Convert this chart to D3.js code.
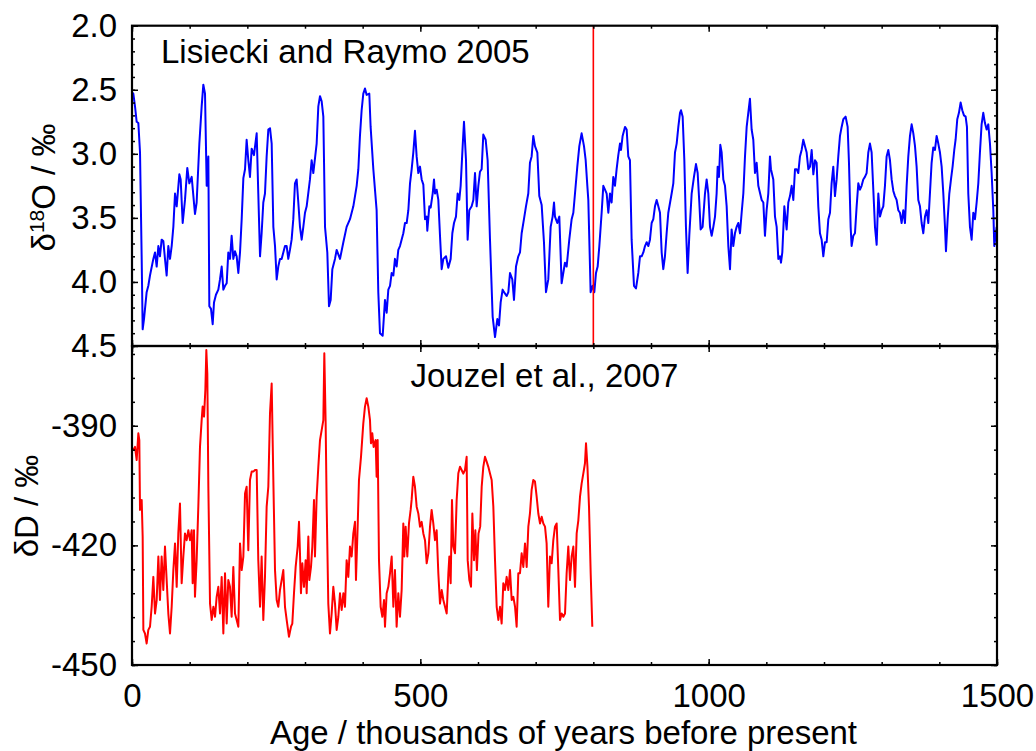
<!DOCTYPE html>
<html><head><meta charset="utf-8">
<script src="https://cdn.jsdelivr.net/npm/d3@7"></script>
<style>
body{margin:0;background:#fff;}
svg text{font-family:"Liberation Sans", Arial, sans-serif;fill:#000;}
</style>
</head><body>
<svg id="chart" width="1036" height="751"></svg>
<script>
// ---- Data: Lisiecki & Raymo 2005 (benthic d18O, permil), age in ka ----
const lrAge = [0,2.3,5.2,8.1,11,13.9,16.8,18.5,20.8,25.4,28.3,31.2,37,39.9,42.8,45.7,48.5,51.4,54.3,57.2,60.1,63,65.9,68.8,71.7,74.6,77.5,82.1,84.4,87.9,91.9,95.9,99.4,103.5,109.2,112.1,116.8,120.8,123.7,126.6,129.5,132.4,134.1,137,139.9,142.2,145.6,149.7,152.6,155.5,158.4,161.3,164.2,167,170,172.8,175.7,178.6,181.5,184.4,187.3,190.2,193.1,196,198.8,201.7,204.6,207.5,211.5,216.2,219,222,224.8,227.7,230.6,233.5,236.4,239.3,242.2,245.1,248,250.9,253.7,256.6,259.5,262.4,265.3,268.2,271,273.9,276.8,279.7,282.6,285.5,288.4,291.3,294.2,297.1,300,302.9,308.6,311.5,314.4,320.2,323.1,326,328.9,331.8,334.7,338.7,341.6,344.5,347.4,352,354.9,360.7,366.5,372.2,378,383.8,389.6,392.5,395.3,398.2,401.1,404,406.9,411.5,413.8,418.5,424.2,427.1,430,434.7,438.7,441.6,444.5,447.4,450.3,453.2,456,458.9,461.8,464.7,470.5,473.4,476.3,479.2,482.1,485,487.8,490.7,493.6,496.5,499.4,502.3,505.2,508.1,511,512.1,515.6,517.9,521.4,523.7,525.4,528.3,531.2,534.1,537,539.9,544.5,548.5,552.6,555.5,558.4,561.8,564.7,567.6,569.9,573.4,575.7,579.2,582,584.9,589,591.9,594.8,597.7,600.6,603.4,606.3,609.2,613.3,616.7,620.8,625.4,629.5,633.5,636.4,639.3,642.7,645.1,649.7,652.6,655.5,659.5,662.4,665.9,669.9,672.8,675.7,679.7,683.2,687.2,690.1,693,695.9,698.8,702.9,706.3,710.4,714.4,717.9,721.9,726,729.4,731.8,733.5,737.5,741,745,747.9,750.8,753.7,758.3,762.4,765.3,768.2,772.2,775.7,779.7,783.8,786.7,789.6,791.3,794.2,795.3,798.8,801.7,804.6,807.5,810.4,814.4,817.3,820.2,823.1,826,828.9,831.7,834.6,837.5,840.4,843.3,846.2,848,850.8,854.9,857.8,860.6,863.5,866.4,870.5,874,878,880.9,883.8,886.7,889.6,892.5,895.4,898.2,901.1,904,906.9,909.8,912.7,915.6,918.5,921.3,924.2,927.1,930,935.8,938.7,941.6,944.5,947.4,950.3,952,954.9,957.8,960.6,963.5,966.4,970.5,974.5,978,980.9,983.8,986.1,989.5,993.6,996.5,999.4,1002.3,1005.2,1008.1,1011,1013.8,1015.6,1017.9,1020.2,1022.5,1025.4,1028.3,1031.2,1034.1,1037,1039.8,1042.7,1045.6,1048.5,1051.4,1054.3,1057.2,1060.1,1063,1065.9,1068.7,1071.6,1074.5,1077.4,1080.3,1083.2,1086.1,1091.9,1094.8,1097.6,1100.5,1103.4,1106.3,1108,1112.1,1115,1117.9,1120.8,1123.7,1125.4,1127.7,1131.2,1135.2,1138.1,1141,1143.9,1146.8,1149.7,1152.6,1155.4,1158.3,1161.2,1164.1,1167,1169.9,1172.8,1175.7,1178.6,1181.5,1184.4,1187.2,1190.1,1193,1195.9,1198.8,1201.7,1204.6,1207.5,1210.4,1213.2,1216.1,1219,1221.9,1224.8,1227.7,1230.6,1233.5,1237.5,1241,1243.3,1246.2,1247.9,1250.8,1253.7,1256.6,1259.5,1262.4,1265.2,1268.1,1271,1273.9,1276.8,1279.7,1282.6,1285.5,1288.4,1291.3,1294.2,1297.1,1300,1302.8,1305.7,1308.6,1311.5,1314.4,1317.3,1320.2,1323,1325.9,1328.8,1331.7,1334.6,1337.5,1340.4,1343.3,1346.2,1349.1,1352,1354.9,1357.8,1360.6,1363.5,1366.4,1369.3,1372.2,1375.1,1378,1380.9,1383.7,1386.6,1389.5,1392.4,1395.3,1398.2,1401.1,1404,1406.9,1409.8,1411.5,1414.4,1417.3,1420.2,1423,1425.9,1428.2,1431.1,1434,1436.9,1439.8,1442.7,1445.6,1447.9,1450.2,1453.1,1456,1458.9,1461.8,1464.7,1467.6,1470.4,1473.3,1476.2,1479.1,1482,1484.9,1487.8,1490.7,1493.6,1495.3,1497.6,1499.4];
const lrD18O = [2.52,2.53,2.63,2.75,2.76,2.99,3.82,4.37,4.29,4.08,4.03,3.95,3.82,3.77,3.88,3.72,3.80,3.67,3.68,3.82,3.95,3.72,3.82,3.72,3.57,3.31,3.41,3.16,3.20,3.54,3.36,3.11,3.23,3.18,3.47,3.38,2.92,2.63,2.46,2.53,3.25,3.02,4.19,4.21,4.33,4.16,4.10,4.06,3.98,3.88,4.06,4.03,4.01,3.77,3.82,3.64,3.82,3.76,3.80,3.93,3.77,3.51,3.19,3.12,2.89,3.05,3.18,2.96,3.01,2.84,3.31,3.80,3.62,3.38,3.31,3.02,2.81,2.80,2.92,3.57,3.72,3.98,3.88,3.82,3.82,3.77,3.72,3.72,3.82,3.75,3.67,3.51,3.23,3.20,3.38,3.57,3.67,3.57,3.46,3.41,3.20,3.05,3.15,2.92,2.63,2.55,2.59,2.71,3.57,3.77,4.19,4.14,3.90,3.82,3.75,3.82,3.69,3.57,3.51,3.41,3.25,3.12,2.86,2.66,2.53,2.49,2.54,2.53,2.79,3.12,3.44,4.08,4.40,4.42,4.14,4.24,4.06,4.03,3.93,3.95,3.82,3.88,3.75,3.72,3.62,3.54,3.54,3.44,3.23,3.12,2.99,2.82,3.02,3.15,3.10,3.20,3.24,3.51,3.49,3.60,3.41,3.42,3.31,3.20,3.31,3.28,3.36,3.64,3.90,3.82,3.80,3.89,3.82,3.62,3.54,3.49,3.31,3.36,3.25,2.94,2.75,3.05,3.67,3.44,3.41,3.36,3.15,3.41,3.25,3.14,3.12,2.85,2.89,3.05,3.67,4.27,4.43,4.29,4.34,4.16,4.06,4.08,4.11,4.08,3.93,3.98,4.14,3.88,3.80,3.77,3.62,3.51,3.41,3.31,3.07,3.02,2.86,2.94,2.99,3.33,3.40,3.69,4.08,3.98,3.57,3.49,3.38,3.49,3.54,3.49,4.01,3.93,3.85,3.88,3.67,3.51,3.46,3.31,3.10,2.94,2.84,2.94,3.05,3.25,3.36,3.88,4.08,4.03,4.08,3.93,3.88,3.72,3.46,3.25,3.28,3.31,3.46,3.31,3.38,3.18,3.25,3.12,3.01,2.92,2.97,2.86,2.79,2.81,3.02,3.05,3.67,4.03,4.05,3.93,3.80,3.80,3.77,3.72,3.69,3.72,3.67,3.54,3.51,3.41,3.36,3.41,3.46,3.77,3.90,3.80,3.62,3.46,3.31,3.23,2.99,2.92,2.79,2.68,2.66,2.71,3.05,3.57,3.93,3.64,3.31,3.18,3.08,3.15,3.38,3.59,3.57,3.31,3.20,3.31,3.57,3.64,3.57,3.49,3.31,3.10,3.18,2.93,2.99,3.20,3.25,3.41,3.72,3.90,3.59,3.72,3.62,3.57,3.54,3.62,3.46,3.31,3.02,2.79,2.68,2.57,2.81,2.89,3.15,3.07,3.25,3.36,3.38,3.64,3.44,3.31,3.02,3.12,3.20,3.49,3.57,3.82,3.80,3.85,3.77,3.41,3.59,3.38,3.33,3.25,3.36,3.12,3.12,3.15,3.02,2.97,2.89,2.94,2.99,3.12,3.10,2.97,3.16,3.05,3.07,3.41,3.62,3.67,3.80,3.69,3.69,3.51,3.46,3.23,3.10,3.33,3.20,3.02,2.86,2.79,2.73,2.71,2.79,3.07,3.57,3.72,3.64,3.62,3.41,3.23,3.28,3.25,3.20,3.18,3.15,2.99,2.92,2.99,3.28,3.57,3.71,3.31,3.49,3.44,3.41,3.25,3.02,2.97,3.05,3.20,3.29,3.33,3.36,3.44,3.46,3.54,3.44,3.54,3.25,3.02,2.86,2.77,2.84,2.94,3.10,3.36,3.41,3.54,3.62,3.49,3.44,3.54,3.31,3.07,2.95,2.97,2.86,2.92,2.99,3.10,3.31,3.57,3.76,3.51,3.31,3.20,3.10,2.97,2.89,2.73,2.68,2.60,2.66,2.70,2.71,2.79,3.31,3.57,3.67,3.46,3.51,3.38,3.23,2.99,2.77,2.68,2.76,2.81,2.77,2.92,3.15,3.44,3.72,3.64,3.57];

// ---- Data: Jouzel et al. 2007 (EPICA Dome C deuterium, permil), age in ka ----
const edcAge = [0,2.3,5.2,8.1,11,12.7,13.9,16.8,18.5,19.7,22.5,25.4,28.3,31.2,34.1,37,39.9,42.8,45.7,48.5,51.4,54.3,57.2,60.1,63,65.9,68.8,71.7,74.6,77.5,80.3,83.2,86.1,89,91.9,94.8,97.7,100.6,103.5,105.2,107.5,109.2,112.1,115,117.9,120.8,122.5,124.9,127.2,128.9,130.6,132.4,135.3,138.2,141.1,144,146.8,149.7,152.6,155.5,158.4,161.3,164.2,167,169.9,172.8,175.7,178.6,181.5,184.4,187.3,190.2,193.1,196,198.8,201.7,204.6,207.5,210.4,213.3,216.2,219,222,224.8,227.7,230.6,233.5,236.4,239.3,242.2,245.1,248,250.9,253.7,256.6,259.5,262.4,265.3,268.2,272.2,275.7,278,280.9,283.8,287.3,289.6,291.3,293,295.4,298.2,301.1,302.9,305.8,307.5,310.4,312.7,315.6,317.3,320.2,323.1,326,328.9,331.8,333.5,335.8,337.6,340.4,343.3,346.2,349.1,352,354.9,357.8,360.7,363.6,366.5,369.3,372.2,375.1,378,380.9,383.8,386.7,388.4,391.3,393.6,397.1,401.1,404,406.9,409.8,412.7,414.4,416.7,419,422.5,424.2,426,428.3,431.2,434.1,437,438.7,441.6,444.5,447.4,450.3,453.2,456,458.9,461.8,464.7,467.6,470.5,472.2,474.5,477.4,480.3,483.2,484.9,487.8,490.7,493.6,496.5,499.4,502.3,505.2,508.1,511,513.9,516.8,519.6,522.5,525.4,528.3,531.2,534.1,537,539.9,542.8,545.7,548.6,550.3,552.6,554.9,557.2,560.1,563,565.9,568.8,571.6,574.5,577.4,580.3,582.1,585,587.9,590.2,593.1,595.4,598.1,600.9,603.8,606.4,609.2,612.1,615,617.9,620.8,623.7,626.6,629.5,632.4,635.3,638.2,641,643.9,646.8,649.7,652.6,655.5,658.4,661.3,664.2,667,669.9,672.8,675.7,678.6,681.5,684.4,687.3,690.1,693,695.9,698.8,701.7,704.6,707.5,710.4,713.3,716.2,719,721.9,724.8,727.7,730.6,733.5,736.4,739.3,742.2,745.1,748,750.9,753.7,756.6,759.5,762.4,765.3,768.2,771.1,774,776.9,779.7,782.6,785.5,787.3,789.8,792.5,795.4,798.2];
const edcDD = [-396,-396.1,-395.3,-398.6,-391.9,-393.6,-411.1,-408.6,-417.8,-441.2,-442.1,-444.6,-441.2,-440.4,-435.4,-427.9,-437.1,-433.7,-422.8,-433.7,-422.8,-431.2,-420.3,-428.7,-437.1,-442.1,-435.4,-426.2,-419.5,-430.4,-417,-409.5,-429.5,-422.8,-417,-418.7,-416.2,-418.7,-416.2,-429.5,-416.2,-432.9,-423.7,-410.3,-395.3,-388.6,-385.2,-387.7,-381,-371,-376.9,-405.3,-434.6,-438.7,-435.4,-437.9,-432.9,-430.4,-437.1,-427.9,-442.1,-427,-439.6,-428.7,-430.4,-437.9,-425.4,-437.1,-438.7,-440.4,-419.5,-426.2,-422.8,-407,-405.3,-421.2,-403.6,-401.5,-401.5,-401.1,-401.1,-423.7,-435.4,-422.8,-438.7,-427.9,-410.3,-405.3,-386.9,-379.4,-403.6,-426.2,-433.7,-435.4,-431.2,-428.7,-426.2,-435.4,-438.7,-442.9,-440.4,-439.6,-432,-425.4,-420.3,-414.1,-422,-432,-424.5,-430.4,-423.7,-432,-417.8,-428.7,-425.4,-420.3,-408.6,-422.8,-407.8,-400.3,-393.6,-391.1,-388.6,-371.8,-389.4,-410.3,-434.6,-442.1,-437.1,-430.4,-434.6,-441.2,-437.9,-432,-436.2,-432,-435.4,-423.7,-427.9,-420.3,-422.8,-417,-414.1,-428.7,-415.3,-403.6,-397.8,-389.4,-385.2,-383.1,-385.2,-388.6,-394.4,-391.9,-395.3,-393.6,-402.8,-393.6,-423.7,-435.4,-437.9,-433.7,-440.4,-432,-430.4,-427,-422.8,-435.4,-426.2,-440.4,-432,-437.9,-431.2,-414.5,-422.8,-415.3,-422.8,-414.5,-411.1,-408.6,-402.8,-405.3,-410.3,-412,-415.3,-414.1,-417,-418.7,-424.5,-422,-415.3,-411.1,-414.5,-418.7,-416.2,-427,-434.6,-431.2,-433.7,-435.4,-437.1,-427,-422.8,-429.5,-408.6,-420.3,-422,-408.6,-401.9,-400.3,-401.1,-402,-401.1,-397.8,-423.7,-428.7,-430.4,-412,-423.7,-416.2,-426.2,-417,-415.3,-405.3,-400.3,-397.8,-399,-400.3,-402,-403.6,-410.3,-423.7,-435.4,-438.7,-435.4,-439.6,-429.5,-431.2,-427.9,-431.2,-426.2,-433.7,-432.9,-435.4,-440.4,-427,-427,-422,-425.4,-419.5,-425.4,-415.3,-412,-406.1,-403.6,-404,-407.8,-412,-414.5,-412.8,-414.5,-415.3,-419.5,-435.4,-422.8,-424.5,-418.7,-415.3,-414.5,-426.2,-438.7,-437.1,-437.9,-437.1,-427,-420.3,-428.7,-422.8,-420.3,-430.4,-417,-413.7,-407.8,-404.5,-402,-399.4,-394.4,-400.3,-410.3,-427,-440.4];

// ---- Axis ticks and labels ----
const xMajor = [0, 500, 1000, 1500];
const xMinor = [0,100,200,300,400,500,600,700,800,900,1000,1100,1200,1300,1400,1500];
const topMajor = [2.0, 2.5, 3.0, 3.5, 4.0, 4.5];
const topMinor = d3.range(20, 46).map(d => d / 10);
const botMajor = [-450, -420, -390];
const botMinor = d3.range(-450, -369, 6);
const markerAge = [800];
const titleTop = "Lisiecki and Raymo 2005";
const titleBot = "Jouzel et al., 2007";
const xTitle = "Age / thousands of years before present";

const svg = d3.select("#chart");
const L = 132, R = 997, T = 25.7, M = 346, B = 665;
const FS = 33;

const x = d3.scaleLinear().domain([0, 1500]).range([L, R]);
const yTop = d3.scaleLinear().domain([2.0, 4.5]).range([T, M]);
const yBot = d3.scaleLinear().domain([-370, -450]).range([M, B]);

const defs = svg.append("defs");
defs.append("clipPath").attr("id", "clipTop").append("rect")
  .attr("x", L).attr("y", T).attr("width", R - L).attr("height", M - T);
defs.append("clipPath").attr("id", "clipBot").append("rect")
  .attr("x", L).attr("y", M).attr("width", R - L).attr("height", B - M);

// lines
const lrData = lrAge.map((a, i) => [a, lrD18O[i]]);
const edcData = edcAge.map((a, i) => [a, edcDD[i]]);

svg.append("path").datum(lrData)
  .attr("clip-path", "url(#clipTop)")
  .attr("fill", "none").attr("stroke", "#0000ff").attr("stroke-width", 2)
  .attr("stroke-linejoin", "round")
  .attr("d", d3.line().x(d => x(d[0])).y(d => yTop(d[1])));

svg.append("path").datum(edcData)
  .attr("clip-path", "url(#clipBot)")
  .attr("fill", "none").attr("stroke", "#ff0000").attr("stroke-width", 2)
  .attr("stroke-linejoin", "round")
  .attr("d", d3.line().x(d => x(d[0])).y(d => yBot(d[1])));

// marker line
svg.selectAll(".marker").data(markerAge).enter().append("line")
  .attr("x1", d => x(d)).attr("x2", d => x(d))
  .attr("y1", T).attr("y2", M)
  .attr("stroke", "#ff0000").attr("stroke-width", 1.6);

// axes helper
function styleAxis(g) {
  g.select(".domain").remove();
  g.selectAll(".tick line").attr("stroke", "#000").attr("stroke-width", 1.5);
  g.selectAll(".tick text").attr("font-size", FS).attr("font-family", "Liberation Sans, Arial, sans-serif").attr("fill", "#000");
}
function add(axis, tx, ty) {
  svg.append("g").attr("transform", `translate(${tx},${ty})`).call(axis).call(styleAxis);
}

// x ticks on all horizontal edges
[[T, "top"], [M, "bottom"], [M, "top"], [B, "bottom"]].forEach(([yy, side]) => {
  const mk = side === "top" ? d3.axisTop : d3.axisBottom;
  add(mk(x).tickValues(xMinor).tickSize(-3).tickFormat(""), 0, yy);
  add(mk(x).tickValues(xMajor).tickSize(-6).tickFormat(""), 0, yy);
});
// x labels
add(d3.axisBottom(x).tickValues(xMajor).tickSize(0).tickPadding(19).tickFormat(d => String(d)), 0, B);

// y ticks
add(d3.axisLeft(yTop).tickValues(topMinor).tickSize(-3).tickFormat(""), L, 0);
add(d3.axisLeft(yTop).tickValues(topMajor).tickSize(-6).tickPadding(15).tickFormat(d3.format(".1f")), L, 0);
add(d3.axisRight(yTop).tickValues(topMinor).tickSize(-3).tickFormat(""), R, 0);
add(d3.axisRight(yTop).tickValues(topMajor).tickSize(-6).tickFormat(""), R, 0);

add(d3.axisLeft(yBot).tickValues(botMinor).tickSize(-3).tickFormat(""), L, 0);
add(d3.axisLeft(yBot).tickValues(botMajor).tickSize(-6).tickPadding(15).tickFormat(d => String(d)), L, 0);
add(d3.axisRight(yBot).tickValues(botMinor).tickSize(-3).tickFormat(""), R, 0);
add(d3.axisRight(yBot).tickValues(botMajor).tickSize(-6).tickFormat(""), R, 0);

// frames
svg.append("rect").attr("x", L).attr("y", T).attr("width", R - L).attr("height", M - T)
  .attr("fill", "none").attr("stroke", "#000").attr("stroke-width", 2.2);
svg.append("rect").attr("x", L).attr("y", M).attr("width", R - L).attr("height", B - M)
  .attr("fill", "none").attr("stroke", "#000").attr("stroke-width", 2.2);

// panel titles
svg.append("text").attr("x", 161).attr("y", 62.5).attr("font-size", FS).text(titleTop);
svg.append("text").attr("x", 410.5).attr("y", 386.7).attr("font-size", FS).text(titleBot);

// x title
svg.append("text").attr("x", (267 + 860) / 2).attr("y", 744).attr("text-anchor", "middle")
  .attr("font-size", FS).text(xTitle);

// y titles
const yt1 = svg.append("text").attr("transform", "translate(55,187.5) rotate(-90)")
  .attr("text-anchor", "middle").attr("font-size", FS);
yt1.append("tspan").text("δ");
yt1.append("tspan").attr("font-size", 21).attr("dy", -11).text("18");
yt1.append("tspan").attr("dy", 11).text("O / ‰");

svg.append("text").attr("transform", "translate(38,506) rotate(-90)")
  .attr("text-anchor", "middle").attr("font-size", FS).text("δD / ‰");
</script>
</body></html>
